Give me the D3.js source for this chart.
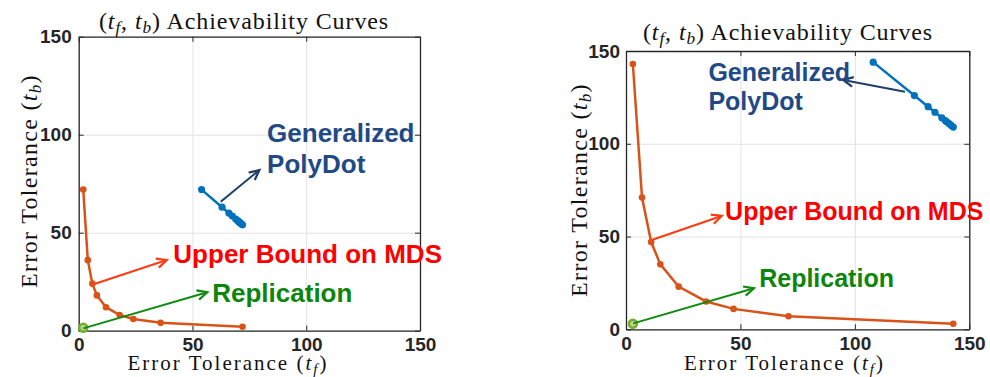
<!DOCTYPE html>
<html>
<head>
<meta charset="utf-8">
<script src="https://cdnjs.cloudflare.com/ajax/libs/d3/7.8.5/d3.min.js"></script>
<style>
  body { margin: 0; background: #fff; }
  svg { display: block; }
</style>
</head>
<body>
<svg id="svg" width="990" height="377"></svg>
<script>
// tick values shared by both axes
const ticks = [0, 50, 100, 150];

// left panel data
const leftMdsTf = [2, 4, 6, 8, 12, 18, 24, 36, 72];
const leftMdsTb = [72, 36, 24, 18, 12, 8, 6, 4, 2];
const leftGpdTf = [54, 63, 66, 67.5, 69, 70, 70.5, 71, 71.5, 72];
const leftGpdTb = [72, 63, 60, 58.5, 57, 56, 55.5, 55, 54.5, 54];
const leftRepTf = [2];
const leftRepTb = [1.5];

// right panel data
const rightMdsTf = [3, 7, 11, 15, 23, 35, 47, 71, 143];
const rightMdsTb = [143, 71, 47, 35, 23, 15, 11, 7, 3];
const rightGpdTf = [108, 126, 132, 135, 138, 139.5, 140, 141, 142, 143];
const rightGpdTb = [144, 126, 120, 117, 114, 112.5, 112, 111, 110, 109];
const rightRepTf = [3];
const rightRepTb = [3];

const colors = {
  mds: '#D95319', gpd: '#0072BD', rep: '#77AC30',
  gpdText: '#1F4A85', gpdArrow: '#1E3F66',
  mdsText: '#FF0000', mdsArrow: '#FF3B14',
  repText: '#0B860B', repArrow: '#128A12',
  axis: '#262626', grid: '#e3e3e3'
};

const panels = [
  {
    box: { left: 78.7, right: 420, bottom: 330.7, top: 36.7 },
    title: [244, 29], xlab: [228, 369.5], ylab: [37, 181], yPad: 7, noteSize: 26,
    mds: [leftMdsTf, leftMdsTb], gpd: [leftGpdTf, leftGpdTb], rep: [leftRepTf, leftRepTb],
    // annotations in data units
    notes: {
      gpdText: [82.8, 96.4, 80.5], gpdArrow: [62.4, 65.8, 79.4, 82],
      mdsText: [41.6, 34.5], mdsArrow: [6.9, 23.8, 38.7, 36.1],
      repText: [58.7, 14.8], repArrow: [2, 1.2, 56.5, 19.6]
    }
  },
  {
    box: { left: 626, right: 969.3, bottom: 329.3, top: 51 },
    title: [788, 40], xlab: [784.5, 369.5], ylab: [587, 190], yPad: 6, noteSize: 25,
    mds: [rightMdsTf, rightMdsTb], gpd: [rightGpdTf, rightGpdTb], rep: [rightRepTf, rightRepTb],
    notes: {
      gpdText: [36, 133.8, 118.2], gpdArrow: [121.9, 128, 94.9, 134.4],
      mdsText: [43.3, 58.9], mdsArrow: [11.2, 48.1, 41.8, 61.1],
      repText: [58.2, 22.6], repArrow: [3.2, 3.2, 55.9, 22.1]
    }
  }
];

const svg = d3.select('#svg');
const sans = '"Liberation Sans", Arial, sans-serif';
const serif = '"Liberation Serif", "Times New Roman", serif';

function mathLabel(sel, word, sub) {
  sel.append('tspan').text(word + ' (');
  sel.append('tspan').attr('font-style', 'italic').text('t');
  sel.append('tspan').attr('font-style', 'italic').attr('font-size', '0.72em').attr('dy', 4).text(sub);
  sel.append('tspan').attr('dy', -4).text(')');
}

function arrow(g, x1, y1, x2, y2, color) {
  g.append('line')
    .attr('x1', x1).attr('y1', y1).attr('x2', x2).attr('y2', y2)
    .attr('stroke', color).attr('stroke-width', 2);
  const ang = Math.atan2(y2 - y1, x2 - x1);
  const len = 11, spread = 0.45;
  const head = [
    [x2 - len * Math.cos(ang - spread), y2 - len * Math.sin(ang - spread)],
    [x2, y2],
    [x2 - len * Math.cos(ang + spread), y2 - len * Math.sin(ang + spread)]
  ];
  g.append('path')
    .attr('d', d3.line()(head))
    .attr('fill', 'none').attr('stroke', color).attr('stroke-width', 2.2)
    .attr('stroke-linejoin', 'miter');
}

panels.forEach(p => {
  const b = p.box;
  const x = d3.scaleLinear().domain([0, 150]).range([b.left, b.right]);
  const y = d3.scaleLinear().domain([0, 150]).range([b.bottom, b.top]);
  const g = svg.append('g');

  // grid
  const grid = g.append('g').attr('class', 'grid');
  grid.append('g')
    .attr('transform', 'translate(0,' + b.bottom + ')')
    .call(d3.axisBottom(x).tickValues(ticks).tickSize(-(b.bottom - b.top)).tickFormat(''));
  grid.append('g')
    .attr('transform', 'translate(' + b.left + ',0)')
    .call(d3.axisLeft(y).tickValues(ticks).tickSize(-(b.right - b.left)).tickFormat(''));
  grid.selectAll('.domain').remove();
  grid.selectAll('line').attr('stroke', colors.grid).attr('stroke-width', 1);

  // axes with inward ticks
  const axes = g.append('g').attr('class', 'axes');
  const xa = axes.append('g')
    .attr('transform', 'translate(0,' + b.bottom + ')')
    .call(d3.axisBottom(x).tickValues(ticks).tickSizeInner(-5).tickSizeOuter(0).tickPadding(7));
  const ya = axes.append('g')
    .attr('transform', 'translate(' + b.left + ',0)')
    .call(d3.axisLeft(y).tickValues(ticks).tickSizeInner(-5).tickSizeOuter(0).tickPadding(p.yPad));
  axes.append('g')
    .attr('transform', 'translate(0,' + b.top + ')')
    .call(d3.axisTop(x).tickValues(ticks).tickSizeInner(-5).tickSizeOuter(0).tickFormat(''));
  axes.append('g')
    .attr('transform', 'translate(' + b.right + ',0)')
    .call(d3.axisRight(y).tickValues(ticks).tickSizeInner(-5).tickSizeOuter(0).tickFormat(''));
  axes.selectAll('.domain').attr('stroke', colors.axis).attr('stroke-width', 1.3);
  axes.selectAll('.tick line').attr('stroke', colors.axis);
  [xa, ya].forEach(a => a.selectAll('text')
    .attr('font-family', sans).attr('font-weight', 'bold')
    .attr('font-size', 19).attr('fill', colors.axis));

  // titles and labels
  const t = g.append('text').attr('x', p.title[0]).attr('y', p.title[1])
    .attr('text-anchor', 'middle').attr('font-family', serif).attr('font-size', 24)
    .attr('letter-spacing', 0.9).attr('fill', '#111');
  t.append('tspan').text('(');
  t.append('tspan').attr('font-style', 'italic').text('t');
  t.append('tspan').attr('font-style', 'italic').attr('font-size', '0.72em').attr('dy', 4).text('f');
  t.append('tspan').attr('dy', -4).text(', ');
  t.append('tspan').attr('font-style', 'italic').text('t');
  t.append('tspan').attr('font-style', 'italic').attr('font-size', '0.72em').attr('dy', 4).text('b');
  t.append('tspan').attr('dy', -4).text(') Achievability Curves');

  const xl = g.append('text').attr('x', p.xlab[0]).attr('y', p.xlab[1])
    .attr('text-anchor', 'middle').attr('font-family', serif).attr('font-size', 21)
    .attr('letter-spacing', 2).attr('fill', '#111');
  mathLabel(xl, 'Error Tolerance', 'f');
  const yl = g.append('text')
    .attr('transform', 'translate(' + p.ylab[0] + ',' + p.ylab[1] + ') rotate(-90)')
    .attr('text-anchor', 'middle').attr('font-family', serif).attr('font-size', 24)
    .attr('letter-spacing', 1.3).attr('fill', '#111');
  mathLabel(yl, 'Error Tolerance', 'b');

  // series
  const line = d3.line().x(d => x(d[0])).y(d => y(d[1]));
  function series(pair, color, w, r) {
    const pts = d3.zip(pair[0], pair[1]);
    g.append('path').datum(pts).attr('d', line)
      .attr('fill', 'none').attr('stroke', color).attr('stroke-width', w);
    g.selectAll(null).data(pts).enter().append('circle')
      .attr('cx', d => x(d[0])).attr('cy', d => y(d[1])).attr('r', r).attr('fill', color);
  }
  series(p.mds, colors.mds, 2.5, 3.3);
  series(p.gpd, colors.gpd, 2.5, 3.6);
  g.selectAll(null).data(d3.zip(p.rep[0], p.rep[1])).enter().append('circle')
    .attr('cx', d => x(d[0])).attr('cy', d => y(d[1])).attr('r', 4)
    .attr('fill', '#b5d68c').attr('stroke', colors.rep).attr('stroke-width', 2.5);

  // annotations
  const n = p.notes;
  arrow(g, x(n.gpdArrow[0]), y(n.gpdArrow[1]), x(n.gpdArrow[2]), y(n.gpdArrow[3]), colors.gpdArrow);
  arrow(g, x(n.mdsArrow[0]), y(n.mdsArrow[1]), x(n.mdsArrow[2]), y(n.mdsArrow[3]), colors.mdsArrow);
  arrow(g, x(n.repArrow[0]), y(n.repArrow[1]), x(n.repArrow[2]), y(n.repArrow[3]), colors.repArrow);

  const note = (tx, ty, str, color) => g.append('text')
    .attr('x', x(tx)).attr('y', y(ty)).text(str)
    .attr('font-family', sans).attr('font-weight', 'bold').attr('font-size', p.noteSize).attr('fill', color);
  note(n.gpdText[0], n.gpdText[1], 'Generalized', colors.gpdText);
  note(n.gpdText[0], n.gpdText[2], 'PolyDot', colors.gpdText);
  note(n.mdsText[0], n.mdsText[1], 'Upper Bound on MDS', colors.mdsText);
  note(n.repText[0], n.repText[1], 'Replication', colors.repText);
});
</script>
</body>
</html>
